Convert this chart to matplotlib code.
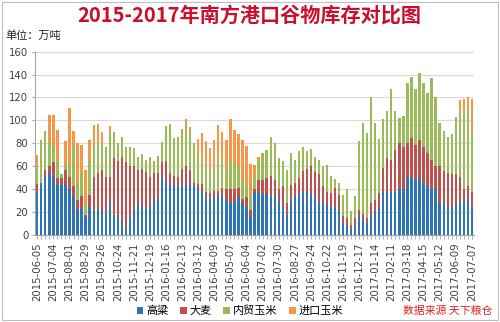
import numpy as np
import matplotlib
matplotlib.use("Agg")
import matplotlib.pyplot as plt
from matplotlib.patches import Rectangle

plt.rcParams['font.family'] = ['Noto Sans CJK SC', 'DejaVu Sans']

TITLE = '2015-2017年南方港口谷物库存对比图'
SERIES = ['高粱', '大麦', '内贸玉米', '进口玉米']
COLORS = ['#2E75B6', '#C0504D', '#9BBB59', '#F79646']

tick_labels = [
    '2015-06-05', '2015-07-04', '2015-08-01', '2015-08-29', '2015-09-26', '2015-10-24',
    '2015-11-21', '2015-12-19', '2016-01-16', '2016-02-13', '2016-03-12', '2016-04-09',
    '2016-05-07', '2016-06-04', '2016-07-02', '2016-07-30', '2016-08-27', '2016-09-24',
    '2016-10-22', '2016-11-19', '2016-12-17', '2017-01-14', '2017-02-11', '2017-03-18',
    '2017-04-15', '2017-05-12', '2017-06-09', '2017-07-07',
]

# weekly stocks, 10k tonnes
sorghum = [
    38, 45, 52, 54, 51, 44, 45, 45, 40, 34, 23, 23, 16, 25, 21, 23, 22, 19, 29, 18,
    18, 13, 6, 16, 23, 29, 25, 23, 25, 32, 32, 51, 47, 44, 45, 42, 45, 45, 44, 43,
    41, 39, 33, 32, 33, 34, 35, 31, 29, 29, 33, 28, 25, 16, 38, 38, 36, 36, 34, 34,
    30, 25, 18, 30, 34, 36, 38, 38, 36, 33, 28, 29, 28, 25, 25, 22, 11, 9, 5, 8,
    17, 14, 11, 17, 21, 25, 38, 38, 38, 38, 40, 40, 51, 51, 48, 50, 46, 44, 40, 41,
    28, 28, 25, 24, 27, 28, 30, 31, 25,
]
barley = [
    7, 1, 5, 6, 13, 6, 5, 12, 11, 9, 8, 11, 2, 10, 30, 31, 35, 32, 22, 49,
    47, 55, 58, 44, 37, 28, 33, 32, 26, 22, 22, 13, 18, 10, 7, 9, 13, 15, 13, 3,
    4, 6, 5, 5, 6, 5, 6, 9, 11, 11, 8, 4, 8, 6, 2, 10, 12, 14, 18, 14,
    10, 18, 10, 14, 12, 14, 18, 20, 24, 22, 25, 14, 10, 12, 16, 13, 6, 6, 4, 7,
    5, 5, 4, 11, 10, 12, 21, 29, 28, 36, 40, 37, 29, 34, 31, 33, 31, 28, 26, 19,
    32, 28, 29, 29, 26, 23, 10, 12, 13,
]
domestic_corn = [
    15, 37, 34, 20, 13, 16, 3, 5, 10, 34, 14, 20, 9, 30, 26, 26, 23, 26, 39, 23,
    15, 18, 13, 17, 16, 11, 13, 11, 17, 11, 15, 17, 30, 43, 33, 35, 35, 36, 32, 34,
    25, 22, 24, 21, 19, 29, 24, 18, 26, 22, 19, 16, 10, 12, 11, 17, 24, 24, 34, 32,
    27, 22, 29, 28, 20, 23, 21, 15, 15, 13, 13, 17, 23, 15, 8, 11, 18, 25, 12, 19,
    60, 79, 74, 92, 67, 47, 42, 41, 61, 34, 22, 27, 53, 53, 48, 58, 56, 52, 71, 60,
    38, 35, 32, 35, 50, 57, 67, 67, 51,
]
imported_corn = [
    10, 0, 0, 25, 28, 26, 0, 20, 50, 14, 35, 25, 30, 18, 19, 17, 10, 0, 5, 0,
    0, 0, 0, 0, 0, 0, 0, 0, 0, 0, 0, 0, 0, 0, 0, 0, 0, 5, 5, 0,
    14, 22, 20, 18, 25, 28, 25, 25, 35, 30, 28, 35, 35, 28, 10, 3, 0, 0, 0, 0,
    0, 0, 0, 0, 0, 0, 0, 0, 0, 0, 0, 0, 0, 0, 0, 0, 0, 0, 0, 0,
    0, 0, 0, 0, 0, 0, 0, 0, 0, 0, 0, 0, 0, 0, 0, 0, 0, 0, 0, 0,
    0, 0, 0, 0, 0, 10, 12, 10, 30,
]


def main():
    fig = plt.figure(figsize=(5.0, 3.22), dpi=100)
    ax = fig.add_axes([0.0706, 0.269, 0.877, 0.571])

    data = np.array([sorghum, barley, domestic_corn, imported_corn], dtype=float)
    x = np.arange(data.shape[1])
    bottom = np.zeros(data.shape[1])
    handles = []
    for name, vals, color in zip(SERIES, data, COLORS):
        h = ax.bar(x, vals, 0.56, bottom=bottom, color=color, label=name, linewidth=0, zorder=3)
        handles.append(h)
        bottom += vals

    ax.set_xlim(-0.5, len(x) - 0.5)
    ax.set_ylim(0, 160)
    ax.set_yticks(np.arange(0, 161, 20))
    ax.grid(axis='y', color='#D9D9D9', linewidth=0.8, zorder=0)

    ax.set_xticks(np.arange(0, len(x), 4))
    ax.set_xticklabels(tick_labels, rotation=90, fontsize=7.3, color='#404040', family='DejaVu Sans')
    ax.set_xticks(x, minor=True)
    ax.tick_params(axis='x', which='both', length=3, color='#A6A6A6', width=0.6, pad=2)
    ax.tick_params(axis='y', length=2, color='#A6A6A6', pad=3, labelsize=7.3, labelcolor='#404040')
    for lab in ax.get_yticklabels():
        lab.set_family('DejaVu Sans')

    for side in ('top', 'right'):
        ax.spines[side].set_visible(False)
    for side in ('left', 'bottom'):
        ax.spines[side].set_color('#A6A6A6')
        ax.spines[side].set_linewidth(0.8)

    fig.text(0.499, 0.952, TITLE, ha='center', va='center', fontsize=14.5,
             fontweight='bold', color='#C8102E')
    fig.text(0.01, 0.888, '单位：万吨', ha='left', va='center', fontsize=8, color='#222222')

    fig.legend(handles=handles, loc='center', bbox_to_anchor=(0.48, 0.035), ncol=4,
               frameon=False, fontsize=8, handlelength=0.6, handleheight=0.6,
               handletextpad=0.3, columnspacing=1.0, borderpad=0)
    fig.text(0.985, 0.035, '数据来源 天下粮仓', ha='right', va='center', fontsize=7.8,
             color='#E0201E')

    fig.patches.append(Rectangle((0.004, 0.006), 0.992, 0.988, transform=fig.transFigure,
                                 fill=False, edgecolor='#BFBFBF', linewidth=0.8))

    fig.savefig('out.png', dpi=100)


if __name__ == '__main__':
    main()
